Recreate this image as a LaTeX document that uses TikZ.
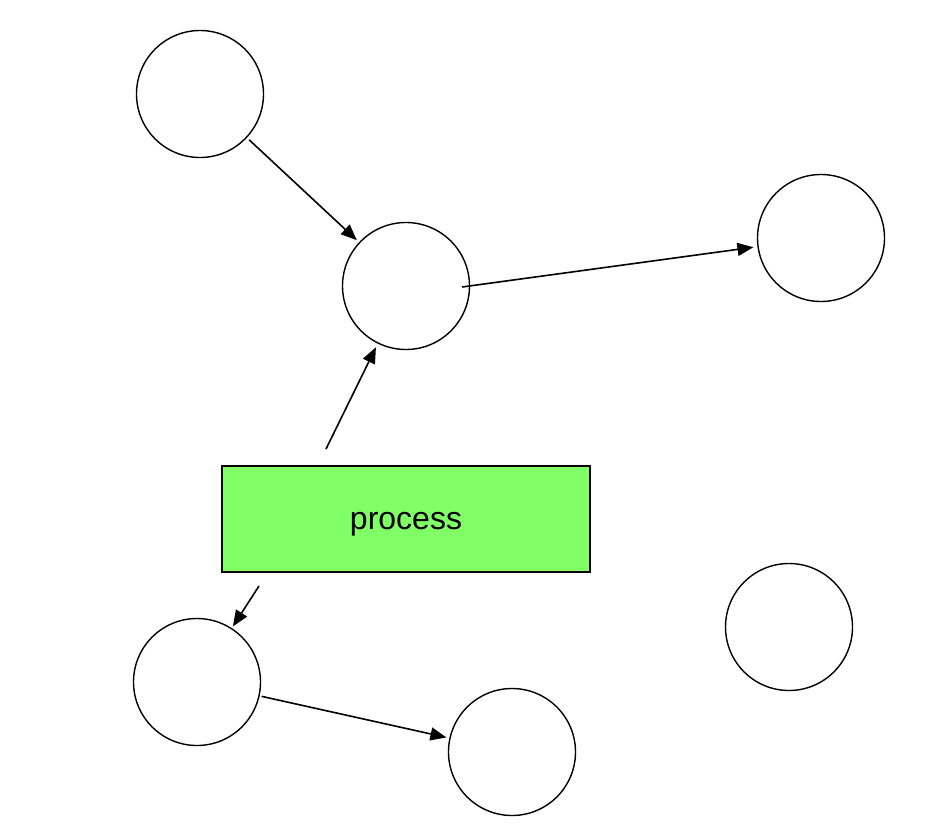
\documentclass[tikz,border=0pt]{standalone}
\usepackage{fontspec}
\setmainfont{Liberation Sans}
\usetikzlibrary{arrows.meta}
\definecolor{procgreen}{RGB}{128,255,102}
\begin{document}
\begin{tikzpicture}[x=1pt,y=-1pt,
  circ/.style={circle,draw=black,line width=1.4pt,minimum size=127pt,inner sep=0pt},
  procbox/.style={rectangle,draw=black,line width=1.4pt,fill=procgreen,minimum width=368pt,minimum height=106pt,inner sep=0pt,font=\fontsize{32}{36}\selectfont},
  link/.style={line width=1.6pt,-{Triangle[length=16pt,width=13pt]}}]
\useasboundingbox (0,0) rectangle (938,836);
\node[circ] (A) at (200,94) {};
\node[circ] (B) at (406,286) {};
\node[circ] (C) at (821,238) {};
\node[circ] (D) at (197,682) {};
\node[circ] (E) at (512,752) {};
\node[circ] (F) at (789,627) {};
\node[procbox] (P) at (406,519) {\raisebox{-10pt}[0pt][0pt]{process}};
\coordinate (b1) at (462,287);
\coordinate (r1) at (326,449);
\coordinate (r2) at (259,586);
\draw[link,shorten <=3pt,shorten >=3pt] (A) -- (B);
\draw[link,shorten >=4pt] (b1) -- (C);
\draw[link,shorten >=4pt] (r1) -- (B);
\draw[link,shorten >=2pt] (r2) -- (D);
\draw[link,shorten <=2pt,shorten >=3pt] (D) -- (E);
\end{tikzpicture}
\end{document}
